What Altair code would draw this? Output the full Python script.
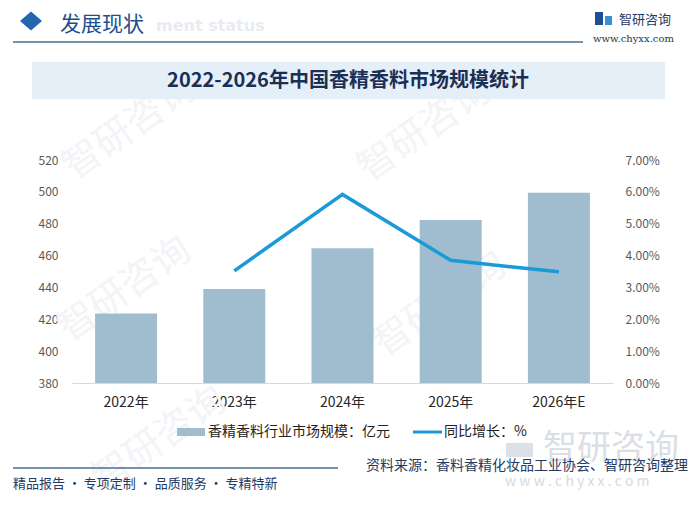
import altair as alt
import pandas as pd

# ---------------- data ----------------
years = ["2022年", "2023年", "2024年", "2025年", "2026年E"]
market_size = [423.6, 439.0, 464.6, 482.4, 499.4]          # 亿元
growth_rate = [None, 0.0352, 0.0592, 0.0385, 0.0349]       # 同比增长
left_ticks = [380, 400, 420, 440, 460, 480, 500, 520]
right_ticks = [0.0, 0.01, 0.02, 0.03, 0.04, 0.05, 0.06, 0.07]

title_text = "2022-2026年中国香精香料市场规模统计"
header_text = "发展现状"
legend_bar_text = "香精香料行业市场规模：亿元"
legend_line_text = "同比增长：%"
source_text = "资料来源：香料香精化妆品工业协会、智研咨询整理"
slogan_text = "精品报告 · 专项定制 · 品质服务 · 专精特新"

df = pd.DataFrame({"year": years, "size": market_size, "growth": growth_rate})
line_df = df.dropna()

FONT = "Noto Sans CJK SC"
BAR_C = "#9fbdce"
LINE_C = "#1a9ad6"
NAVY = "#1f3a63"

# plot origin in page coords is (72,160); helpers take page coords
OX, OY = 72, 160
one = pd.DataFrame({"k": [0]})


def txt(s, x, y, size, color, align="left", weight="normal", font=FONT, angle=0, opacity=1.0):
    return alt.Chart(one).mark_text(
        text=s, align=align, baseline="middle", fontSize=size, color=color,
        fontWeight=weight, font=font, angle=angle, opacity=opacity
    ).encode(x=alt.value(x - OX), y=alt.value(y - OY))


def rect(x, x2, y, y2, color, opacity=1.0):
    return alt.Chart(one).mark_rect(color=color, opacity=opacity).encode(
        x=alt.value(x - OX), x2=alt.value(x2 - OX), y=alt.value(y - OY), y2=alt.value(y2 - OY))


def rule(x, x2, y, color, w):
    return alt.Chart(one).mark_rule(color=color, strokeWidth=w).encode(
        x=alt.value(x - OX), x2=alt.value(x2 - OX), y=alt.value(y - OY))


# ---------------- watermarks ----------------
wm_c = "#f2f4f7"
watermarks = [
    txt("智研咨询", x, y, 38, wm_c, align="center", angle=325)
    for (x, y) in [(130, 128), (125, 290), (425, 130), (440, 305), (160, 440)]
]

# ---------------- header ----------------
diamond = alt.Chart(one).mark_point(
    shape="M-1,0L0,-0.86L1,0L0,0.86Z", filled=True, size=484, color="#2266b0", opacity=1
).encode(x=alt.value(31 - OX), y=alt.value(21 - OY))
header_en = txt("ment status", 156, 26, 16, "#e8ecf1", weight="bold", font="DejaVu Sans")
header = txt(header_text, 60, 25, 21, "#1d4f8c")
header_rule = rule(13, 583, 42, "#4d6d88", 1.5)
logo_a = rect(595, 603, 12, 25, "#1f4e9a")
logo_b = rect(605, 612, 16, 25, "#3b8fd6")
logo_txt = txt("智研咨询", 619, 20, 13, NAVY)
logo_url = txt("www.chyxx.com", 593, 39, 10, "#333333", font="DejaVu Serif")

title_box = rect(32, 665, 62, 99, "#e5eff8")
title = txt(title_text, 348, 81, 20, "#1b2f55", align="center", weight="bold")

# ---------------- main chart ----------------
x_enc = alt.X(
    "year:N", sort=years,
    scale=alt.Scale(paddingInner=0.427, paddingOuter=0.2135),
    axis=alt.Axis(title=None, labelAngle=0, ticks=False, domainColor="#d9d9d9",
                  labelFontSize=14, labelColor="#262626", labelPadding=12, labelFont=FONT),
)

bars = alt.Chart(df).mark_bar(color=BAR_C).encode(
    x=x_enc,
    y=alt.Y("size:Q",
            scale=alt.Scale(domain=[380, 520], clamp=True, zero=False, nice=False),
            axis=alt.Axis(orient="left", values=left_ticks, title=None, domain=False,
                          ticks=False, grid=False, labelColor="#595959", labelFontSize=12,
                          labelPadding=14, labelFont=FONT)),
)

line = alt.Chart(line_df).mark_line(color=LINE_C, strokeWidth=3.5).encode(
    x=alt.X("year:N", sort=years),
    y=alt.Y("growth:Q",
            scale=alt.Scale(domain=[0, 0.07], nice=False, zero=True),
            axis=alt.Axis(orient="right", values=right_ticks, format=".2%", title=None,
                          domain=False, ticks=False, grid=False, labelColor="#595959",
                          labelFontSize=12, labelPadding=12, labelFont=FONT, labelAlign="left")),
)

# ---------------- legend ----------------
leg_bar = rect(177, 205, 428, 436, BAR_C)
leg_bar_t = txt(legend_bar_text, 208, 432, 14, "#222222")
leg_line = rule(413, 442, 432, LINE_C, 3)
leg_line_t = txt(legend_line_text, 444, 432, 14, "#222222")

# ---------------- footer ----------------
foot_rule = rule(13, 338, 468, "#4d6d88", 1.5)
slogan = txt(slogan_text, 13, 484, 13, NAVY)
wm_logo_icon = rect(506, 533, 443, 457, "#d3dae3", opacity=0.8)
wm_logo = txt("智研咨询", 543, 449, 34, "#ccd2da", opacity=0.7)
wm_url = txt("w w w . c h y x x . c o m", 505, 482, 14, "#ccd2da", opacity=0.8)
source = txt(source_text, 688, 466, 14, NAVY, align="right")

chart = alt.layer(
    *watermarks,
    title_box,
    bars, line,
    diamond, header_en, header, header_rule, logo_a, logo_b, logo_txt, logo_url, title,
    leg_bar, leg_bar_t, leg_line, leg_line_t,
    foot_rule, slogan, wm_logo_icon, wm_logo, wm_url, source,
).resolve_scale(y="independent").properties(
    width=541, height=223,
    autosize=alt.AutoSizeParams(type="none"),
    padding={"left": 64, "top": 152, "right": 79, "bottom": 118},
    background="white",
).configure_view(stroke=None)

chart.save("out.html", embed_options={"renderer": "svg", "actions": False})
